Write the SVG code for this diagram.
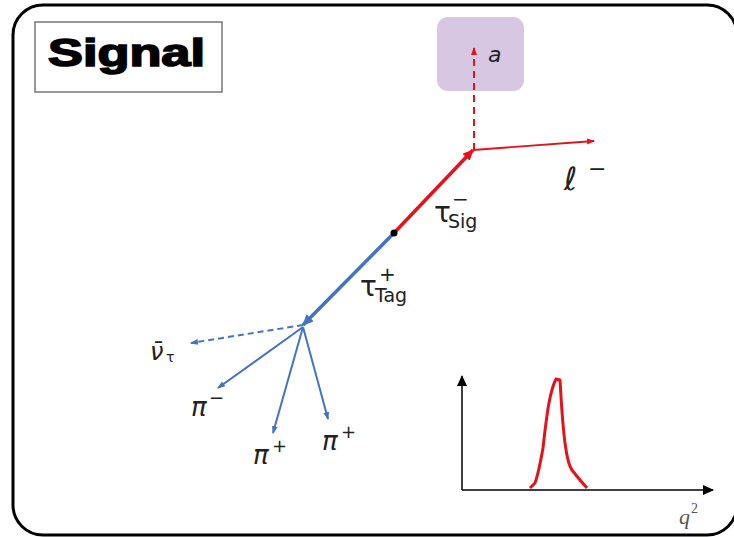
<svg xmlns="http://www.w3.org/2000/svg" width="734" height="537" viewBox="0 0 734 537">
<style>
.lbl{font-family:"DejaVu Sans","Noto Sans",sans-serif;fill:#222}
.red{stroke:#e3121b;fill:none}
.blue{stroke:#4472c4;fill:none}
.ax{stroke:#000;stroke-width:1.5;fill:none}
</style>
<defs>
<marker id="ar" markerWidth="8" markerHeight="8" refX="7" refY="4" orient="auto" markerUnits="userSpaceOnUse"><path d="M0,1 L8,4 L0,7 z" fill="#e3121b"/></marker>
<marker id="arB" markerWidth="12" markerHeight="12" refX="10" refY="5" orient="auto" markerUnits="userSpaceOnUse"><path d="M0,0 L11,5 L0,10 z" fill="#e3121b"/></marker>
<marker id="ab" markerWidth="8" markerHeight="8" refX="7" refY="4" orient="auto" markerUnits="userSpaceOnUse"><path d="M0,1 L8,4 L0,7 z" fill="#4472c4"/></marker>
<marker id="abB" markerWidth="12" markerHeight="12" refX="10" refY="5" orient="auto" markerUnits="userSpaceOnUse"><path d="M0,0 L11,5 L0,10 z" fill="#4472c4"/></marker>
<marker id="ak" markerWidth="12" markerHeight="12" refX="10" refY="5" orient="auto" markerUnits="userSpaceOnUse"><path d="M0,0 L11,5 L0,10 z" fill="#000"/></marker>
</defs>
<rect x="0" y="0" width="734" height="537" fill="#fff"/>
<rect x="13" y="5" width="724" height="530" rx="30" fill="none" stroke="#000" stroke-width="3"/>
<g id="title">
<rect x="35" y="22" width="187" height="70" fill="#fff" stroke="#777" stroke-width="1.5"/>
<text x="48" y="66" textLength="157" lengthAdjust="spacingAndGlyphs" font-family="Liberation Sans, Arial, sans-serif" font-weight="bold" font-size="38" fill="#000" stroke="#000" stroke-width="1.6">Signal</text>
</g>
<g id="axion">
<rect x="437" y="17" width="87" height="74" rx="11" fill="#d8c7e2"/>
<text x="488" y="62" class="lbl" font-size="22" font-style="italic">a</text>
</g>
<g id="connectors">
<line x1="474" y1="150" x2="474" y2="48" class="red" stroke-width="2" stroke-dasharray="7,5" marker-end="url(#ar)"/>
<line x1="394" y1="233" x2="473" y2="150" class="red" stroke-width="3.5" marker-end="url(#arB)"/>
<line x1="473" y1="150" x2="594" y2="141" class="red" stroke-width="1.8" marker-end="url(#ar)"/>
<line x1="394" y1="233" x2="303" y2="325" class="blue" stroke-width="3.5" marker-end="url(#abB)"/>
<line x1="303" y1="325" x2="191" y2="343" class="blue" stroke-width="2" stroke-dasharray="6,4" marker-end="url(#ab)"/>
<line x1="303" y1="327" x2="218" y2="388" class="blue" stroke-width="2" marker-end="url(#ab)"/>
<line x1="303" y1="327" x2="273" y2="433" class="blue" stroke-width="2" marker-end="url(#ab)"/>
<line x1="303" y1="327" x2="328" y2="419" class="blue" stroke-width="2" marker-end="url(#ab)"/>
<circle cx="394" cy="233" r="3.5" fill="#000"/>
</g>
<g id="labels">
<text x="564" y="190" class="lbl" font-size="32" font-style="italic">ℓ</text>
<text x="588" y="176" class="lbl" font-size="22">−</text>
<text x="434" y="222" class="lbl" font-size="28">τ</text>
<text x="448" y="228" class="lbl" font-size="19">Sig</text>
<text x="452" y="206" class="lbl" font-size="20">−</text>
<text x="360" y="296" class="lbl" font-size="28">τ</text>
<text x="375" y="302" class="lbl" font-size="19">Tag</text>
<text x="379" y="281" class="lbl" font-size="20">+</text>
<text x="150" y="360" class="lbl" font-size="24" font-style="italic">ν̄</text>
<text x="166" y="362" class="lbl" font-size="14">τ</text>
<text x="191" y="416" class="lbl" font-size="26" font-style="italic">π</text>
<text x="209" y="404" class="lbl" font-size="18">−</text>
<text x="253" y="464" class="lbl" font-size="26" font-style="italic">π</text>
<text x="272" y="452" class="lbl" font-size="18">+</text>
<text x="322" y="450" class="lbl" font-size="26" font-style="italic">π</text>
<text x="341" y="438" class="lbl" font-size="18">+</text>
</g>
<g id="plot">
<line x1="462" y1="490" x2="462" y2="376" class="ax" marker-end="url(#ak)"/>
<line x1="462" y1="490" x2="713" y2="490" class="ax" marker-end="url(#ak)"/>
<path d="M530,488 L535,483 C538,475 540,465 543,448 C545,430 547,413 549,403 C551,392 553,385 556,379 L560,380 C561,395 562,420 565,443 C567,458 569,466 572,470 C575,474 578,478 587,488" class="red" stroke-width="3" stroke-linejoin="round"/>
<text x="679" y="524" font-family="Liberation Serif, serif" font-style="italic" font-size="22" fill="#555">q</text>
<text x="691" y="513" font-family="Liberation Serif, serif" font-size="14" fill="#555">2</text>
</g>
</svg>
